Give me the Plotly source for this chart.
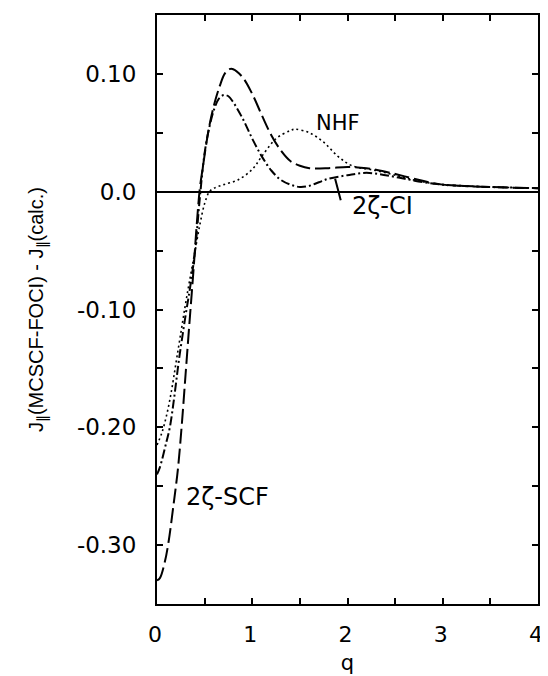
import plotly.graph_objects as go

# 2ζ-SCF (long dash)
q_scf = [0.0, 0.03, 0.08, 0.12, 0.17, 0.22, 0.26, 0.30, 0.34, 0.38, 0.42, 0.45, 0.48, 0.52, 0.56, 0.61, 0.66, 0.71, 0.76, 0.80, 0.90, 1.00, 1.10, 1.20, 1.30, 1.40, 1.50, 1.60, 1.80, 2.00, 2.20, 2.40, 2.60, 2.80, 3.00, 3.50, 4.00]
v_scf = [-0.330, -0.328, -0.315, -0.298, -0.268, -0.235, -0.198, -0.155, -0.112, -0.070, -0.025, 0.003, 0.020, 0.042, 0.060, 0.077, 0.090, 0.100, 0.104, 0.104, 0.097, 0.083, 0.065, 0.048, 0.035, 0.026, 0.022, 0.020, 0.020, 0.021, 0.020, 0.017, 0.013, 0.009, 0.006, 0.004, 0.003]

# 2ζ-CI (dash-dot)
q_ci = [0.0, 0.03, 0.10, 0.135, 0.18, 0.23, 0.30, 0.35, 0.40, 0.45, 0.50, 0.55, 0.60, 0.65, 0.70, 0.75, 0.80, 0.90, 1.00, 1.10, 1.20, 1.30, 1.40, 1.50, 1.60, 1.70, 1.80, 2.00, 2.20, 2.40, 2.60, 2.80, 3.00, 3.50, 4.00]
v_ci = [-0.240, -0.234, -0.212, -0.200, -0.175, -0.143, -0.105, -0.080, -0.050, -0.005, 0.033, 0.055, 0.070, 0.079, 0.082, 0.081, 0.076, 0.062, 0.045, 0.030, 0.018, 0.010, 0.006, 0.004, 0.005, 0.008, 0.011, 0.014, 0.016, 0.014, 0.011, 0.008, 0.006, 0.004, 0.003]

# NHF (dotted)
q_nhf = [0.0, 0.05, 0.10, 0.15, 0.20, 0.25, 0.30, 0.35, 0.40, 0.45, 0.50, 0.55, 0.60, 0.70, 0.85, 1.00, 1.10, 1.25, 1.40, 1.45, 1.60, 1.75, 1.90, 2.05, 2.30, 2.50, 2.75, 3.00, 3.50, 4.00]
v_nhf = [-0.215, -0.205, -0.190, -0.170, -0.145, -0.120, -0.095, -0.072, -0.050, -0.028, -0.010, 0.000, 0.003, 0.006, 0.010, 0.019, 0.030, 0.045, 0.052, 0.053, 0.050, 0.042, 0.030, 0.022, 0.018, 0.014, 0.009, 0.006, 0.004, 0.003]

y_tickvals = [-0.30, -0.25, -0.20, -0.15, -0.10, -0.05, 0.0, 0.05, 0.10]
y_ticktext = ["-0.30", "", "-0.20", "", "-0.10", "", "0.0", "", "0.10"]
x_tickvals = [0, 0.5, 1, 1.5, 2, 2.5, 3, 3.5, 4]
x_ticktext = ["0", "", "1", "", "2", "", "3", "", "4"]

FONT = "DejaVu Sans"

fig = go.Figure()
fig.add_trace(go.Scatter(x=q_scf, y=v_scf, mode="lines", line=dict(color="black", width=2, dash="15px,5px", shape="spline"), showlegend=False))
fig.add_trace(go.Scatter(x=q_ci, y=v_ci, mode="lines", line=dict(color="black", width=2, dash="9px,3px,2px,3px", shape="spline"), showlegend=False))
fig.add_trace(go.Scatter(x=q_nhf, y=v_nhf, mode="lines", line=dict(color="black", width=1.6, dash="2px,3px", shape="spline"), showlegend=False))

fig.add_annotation(x=1.90, y=0.058, text="NHF", showarrow=False, font=dict(family=FONT, size=21, color="black"))
fig.add_annotation(x=0.74, y=-0.259, text="2ζ-SCF", showarrow=False, font=dict(family=FONT, size=24, color="black"))
fig.add_annotation(x=2.37, y=-0.012, text="2ζ-CI", showarrow=False, font=dict(family=FONT, size=24, color="black"))
fig.add_annotation(x=1.87, y=0.011, ax=6, ay=23, text="", showarrow=True, arrowhead=0, arrowwidth=2, arrowcolor="black")

# page body keeps its default 8px margin, so the figure is 8px smaller than the window
fig.update_layout(
    width=540, height=668,
    margin=dict(l=149, r=7, t=5, b=68),
    paper_bgcolor="white", plot_bgcolor="white",
    font=dict(family=FONT, color="black"),
)
fig.update_xaxes(
    range=[0, 4], tickvals=x_tickvals, ticktext=x_ticktext,
    ticks="inside", ticklen=6, tickwidth=2, tickcolor="black",
    showline=True, linewidth=2, linecolor="black", mirror="ticks",
    showgrid=False, zeroline=False, ticklabelshift=-2,
    tickfont=dict(family=FONT, size=22), ticklabelstandoff=10,
    title=dict(text="q", font=dict(family=FONT, size=21), standoff=9),
)
fig.update_yaxes(
    range=[-0.35, 0.15], tickvals=y_tickvals, ticktext=y_ticktext,
    ticks="inside", ticklen=6, tickwidth=2, tickcolor="black",
    showline=True, linewidth=2, linecolor="black", mirror="ticks",
    showgrid=False, zeroline=True, zerolinecolor="black", zerolinewidth=1.5,
    tickfont=dict(family=FONT, size=23), ticklabelstandoff=14,
    title=dict(text="J<sub>∥</sub>(MCSCF-FOCI) - J<sub>∥</sub>(calc.)", font=dict(family="Liberation Sans", size=20), standoff=28),
)

fig.write_html("out.html", config={"displayModeBar": False})
